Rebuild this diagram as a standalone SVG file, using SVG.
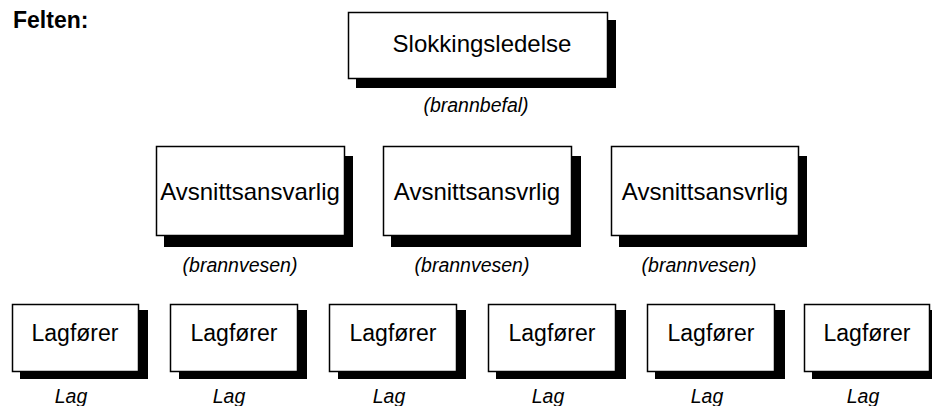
<svg xmlns="http://www.w3.org/2000/svg" width="932" height="406" viewBox="0 0 932 406">
<style>
.box{fill:#fff;stroke:#000;stroke-width:1.5}
.sh{fill:#000}
.lbl{font-family:"Liberation Sans",Arial,sans-serif;font-size:24px;fill:#000;text-anchor:middle}
.sm{font-size:23px}
.sub{font-family:"Liberation Sans",Arial,sans-serif;font-size:19.5px;font-style:italic;fill:#000;text-anchor:middle}
.title{font-family:"Liberation Sans",Arial,sans-serif;font-size:23px;font-weight:bold;fill:#000}
</style>
<rect width="932" height="406" fill="#fff"/>
<text class="title" x="13" y="28">Felten:</text>
<g id="connectors"></g>
<g id="slokkingsledelse">
<rect class="sh" x="356" y="20" width="260" height="68"/>
<rect class="box" x="348.5" y="12.5" width="259" height="66"/>
<text class="lbl" x="482" y="52">Slokkingsledelse</text>
<text class="sub" x="476" y="112">(brannbefal)</text>
</g>
<g id="avsnitt1">
<rect class="sh" x="164" y="156" width="189" height="91"/>
<rect class="box" x="156.5" y="146.5" width="188" height="89"/>
<text class="lbl" x="250" y="200">Avsnittsansvarlig</text>
<text class="sub" x="240" y="272">(brannvesen)</text>
</g>
<g id="avsnitt2">
<rect class="sh" x="391" y="156" width="190" height="91"/>
<rect class="box" x="383.5" y="146.5" width="188" height="89"/>
<text class="lbl" x="477" y="200">Avsnittsansvrlig</text>
<text class="sub" x="472" y="272">(brannvesen)</text>
</g>
<g id="avsnitt3">
<rect class="sh" x="619" y="156" width="188" height="91"/>
<rect class="box" x="611.5" y="146.5" width="187" height="89"/>
<text class="lbl" x="705" y="200">Avsnittsansvrlig</text>
<text class="sub" x="699" y="272">(brannvesen)</text>
</g>
<g id="lag1">
<rect class="sh" x="20" y="310" width="128" height="69"/>
<rect class="box" x="12.5" y="304.5" width="126" height="67"/>
<text class="lbl sm" x="75" y="341">Lagfører</text>
<text class="sub" x="71" y="403">Lag</text>
</g>
<g id="lag2">
<rect class="sh" x="179" y="310" width="128" height="69"/>
<rect class="box" x="170.5" y="304.5" width="127" height="67"/>
<text class="lbl sm" x="234" y="341">Lagfører</text>
<text class="sub" x="229" y="403">Lag</text>
</g>
<g id="lag3">
<rect class="sh" x="338" y="310" width="128" height="69"/>
<rect class="box" x="329.5" y="304.5" width="127" height="67"/>
<text class="lbl sm" x="393" y="341">Lagfører</text>
<text class="sub" x="389" y="403">Lag</text>
</g>
<g id="lag4">
<rect class="sh" x="496" y="310" width="130" height="69"/>
<rect class="box" x="488.5" y="304.5" width="127" height="67"/>
<text class="lbl sm" x="552" y="341">Lagfører</text>
<text class="sub" x="548" y="403">Lag</text>
</g>
<g id="lag5">
<rect class="sh" x="655" y="310" width="130" height="69"/>
<rect class="box" x="647.5" y="304.5" width="127" height="67"/>
<text class="lbl sm" x="711" y="341">Lagfører</text>
<text class="sub" x="707" y="403">Lag</text>
</g>
<g id="lag6">
<rect class="sh" x="812" y="310" width="122" height="69"/>
<rect class="box" x="804.5" y="304.5" width="125" height="67"/>
<text class="lbl sm" x="867" y="341">Lagfører</text>
<text class="sub" x="863" y="403">Lag</text>
</g>
</svg>
